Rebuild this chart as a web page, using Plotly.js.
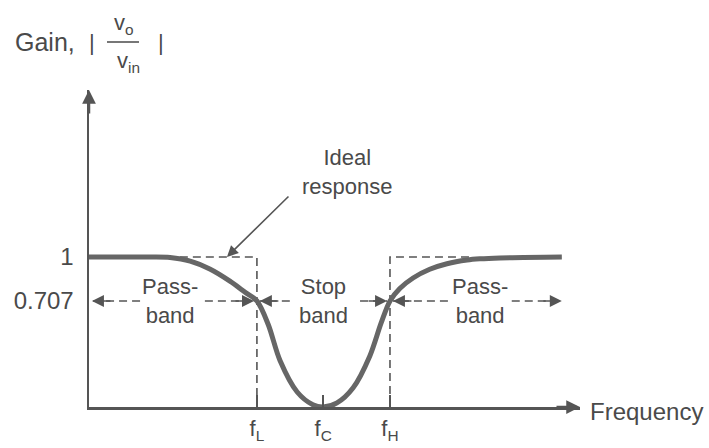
<!DOCTYPE html>
<html>
<head>
<meta charset="utf-8">
<script src="https://cdn.plot.ly/plotly-3.0.1.min.js"></script>
<style>html,body{margin:0;padding:0;background:#fff;}#chart{width:709px;height:448px;}</style>
</head>
<body>
<div id="chart"></div>
<script>
const freq = [0, 1.24, 1.65, 2.06, 2.46, 2.87, 3.18, 3.42, 3.65, 3.89, 4.24, 4.56, 4.77, 5.05, 5.38, 5.72, 5.95, 6.13, 6.33, 6.60, 6.94, 7.29, 7.70, 7.96, 8.37, 9.63];
const gain = [1, 1, 0.997, 0.973, 0.92, 0.839, 0.765, 0.707, 0.55, 0.31, 0.10, 0.015, 0, 0.027, 0.128, 0.34, 0.56, 0.707, 0.79, 0.86, 0.918, 0.955, 0.98, 0.988, 0.994, 1.0];
// Ideal response (dashed)
const idealFreq = [1.85, 3.42, 3.42, null, 6.13, 6.13, 7.8];
const idealGain = [1, 1, 0, null, 0, 1, 1];
// Characteristic frequencies
const fL = 3.42, fC = 4.77, fH = 6.13;
const freqTicks = [fL, fC, fH];
const freqTickText = ['f<sub>L</sub>', 'f<sub>C</sub>', 'f<sub>H</sub>'];
const gainTicks = [0.707, 1];
const gainTickText = ['0.707', '1'];
const halfPower = 0.707;
// Band labels
const bandLabels = ['Pass-<br>band', 'Stop<br>band', 'Pass-<br>band'];
const bandLabelX = [1.65, 4.77, 7.96];
// Band arrows: [shaft start, tip]
const bandArrows = [[1.04, 0.06], [2.36, 3.36], [4.09, 3.48], [5.52, 6.07], [7.31, 6.19], [8.61, 9.63]];

const ink = '#555555';
const fam = 'Liberation Sans, Arial, sans-serif';
const font = {family: fam, size: 22, color: '#4a4a4a'};
const bigFont = {family: fam, size: 24, color: '#4a4a4a'};

const traces = [
  {x: idealFreq, y: idealGain, mode: 'lines', line: {color: ink, width: 1.6, dash: '8px,5px'}, hoverinfo: 'skip', connectgaps: false},
  {x: freq, y: gain, mode: 'lines', line: {color: '#666666', width: 5, shape: 'spline', smoothing: 0.9}, hoverinfo: 'skip'}
];

const L = 89, T = 90, W = 491, H = 317;
function px(x) { return (x - L) / W; }
function py(y) { return 1 - (y - T) / H; }

const shapes = [];
const annotations = [];
bandArrows.forEach(function (a) {
  shapes.push({type: 'line', xref: 'x', yref: 'y', x0: a[0], x1: a[1], y0: halfPower, y1: halfPower,
    line: {color: ink, width: 1.6, dash: '8px,5px'}});
  const dir = a[1] > a[0] ? -1 : 1;
  annotations.push({x: a[1], y: halfPower, xref: 'x', yref: 'y', ax: dir * 20, ay: 0, text: '',
    showarrow: true, arrowhead: 2, arrowsize: 1.5, arrowwidth: 1.6, arrowcolor: ink});
});
bandLabels.forEach(function (t, i) {
  annotations.push({x: bandLabelX[i], y: halfPower, xref: 'x', yref: 'y', text: t, showarrow: false,
    font: font, align: 'center', xanchor: 'center', yanchor: 'middle'});
});
// Ideal response label and arrow
annotations.push({x: px(347), y: py(172), xref: 'paper', yref: 'paper', text: 'Ideal<br>response', showarrow: false,
  font: font, align: 'center', xanchor: 'center', yanchor: 'middle'});
annotations.push({x: 2.81, y: 1.0, xref: 'x', yref: 'y', ax: 63, ay: -62, text: '', showarrow: true,
  arrowhead: 2, arrowsize: 1.4, arrowwidth: 1.6, arrowcolor: ink});
// axis arrowheads
annotations.push({x: 0, y: 2.113, xref: 'x', yref: 'y', ax: 0, ay: 25, text: '', showarrow: true,
  arrowhead: 2, arrowsize: 1.1, arrowwidth: 2.5, arrowcolor: ink});
annotations.push({x: 10, y: 0, xref: 'x', yref: 'y', ax: -25, ay: 0, text: '', showarrow: true,
  arrowhead: 2, arrowsize: 1.1, arrowwidth: 2.5, arrowcolor: ink});
// Frequency label
annotations.push({x: 1.0, y: 0, xref: 'paper', yref: 'y', xshift: 8, yshift: -4, text: 'Frequency', showarrow: false,
  font: bigFont, xanchor: 'left', yanchor: 'middle'});

// Gain label with fraction
annotations.push({x: px(13), y: py(42), xref: 'paper', yref: 'paper', text: 'Gain,', showarrow: false, font: {family: fam, size: 25, color: '#4a4a4a'}, xanchor: 'left', yanchor: 'middle'});
annotations.push({x: px(92), y: py(42), xref: 'paper', yref: 'paper', text: '|', showarrow: false, font: font, xanchor: 'center', yanchor: 'middle'});
annotations.push({x: px(124), y: py(24), xref: 'paper', yref: 'paper', text: 'v<sub>o</sub>', showarrow: false, font: font, xanchor: 'center', yanchor: 'middle'});
annotations.push({x: px(128), y: py(62), xref: 'paper', yref: 'paper', text: 'v<sub>in</sub>', showarrow: false, font: font, xanchor: 'center', yanchor: 'middle'});
annotations.push({x: px(161), y: py(42), xref: 'paper', yref: 'paper', text: '|', showarrow: false, font: font, xanchor: 'center', yanchor: 'middle'});
shapes.push({type: 'line', xref: 'paper', yref: 'paper', x0: px(107), x1: px(139), y0: py(42), y1: py(42), line: {color: ink, width: 1.6}});

const layout = {
  width: 709, height: 448,
  margin: {l: L, r: 709 - L - W, t: T, b: 448 - T - H},
  paper_bgcolor: '#ffffff', plot_bgcolor: '#ffffff',
  showlegend: false,
  font: font,
  xaxis: {range: [0, 10], showgrid: false, zeroline: false, showline: true, linecolor: ink, linewidth: 2.5,
    tickvals: freqTicks, ticktext: freqTickText, ticks: 'inside', ticklen: 12, tickwidth: 1.6, tickcolor: ink,
    tickfont: font, fixedrange: true},
  yaxis: {range: [0, 2.113], showgrid: false, zeroline: false, showline: true, linecolor: ink, linewidth: 2.5,
    tickvals: gainTicks, ticktext: gainTickText, ticks: '', ticklabelstandoff: 8, tickfont: bigFont, fixedrange: true},
  shapes: shapes,
  annotations: annotations
};

Plotly.newPlot('chart', traces, layout, {staticPlot: true, displayModeBar: false});
</script>
</body>
</html>
